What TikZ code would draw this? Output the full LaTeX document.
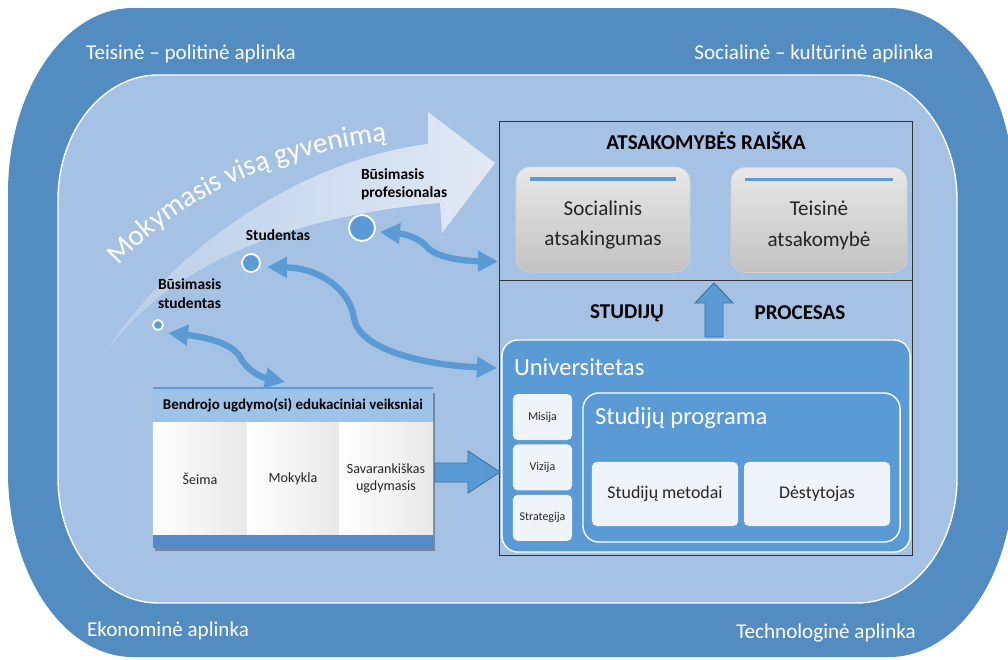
\documentclass[tikz,border=0pt]{standalone}
\usepackage{fontspec}
\setmainfont{Carlito}
\usepackage{tikz}
\usetikzlibrary{arrows.meta,calc,positioning,decorations.text}

\definecolor{envdark}{RGB}{82,140,193}
\definecolor{envlight}{RGB}{165,194,228}
\definecolor{boxblue}{RGB}{91,155,213}
\definecolor{boxline}{RGB}{65,113,156}
\definecolor{paleblue}{RGB}{239,244,250}
\definecolor{headblue}{RGB}{157,195,232}
\definecolor{footblue}{RGB}{84,138,199}
\definecolor{arrowpale}{RGB}{226,233,245}

\newcommand{\fs}[2]{\fontsize{#1}{#2}\selectfont}

\tikzset{
  envtext/.style={text=white, font=\fs{15}{18}},
  panel/.style={draw=black!80, line width=0.7pt, minimum width=10.3cm, minimum height=10.825cm},
  headtext/.style={font=\bfseries\fs{15}{18}},
  graybox/.style={draw=black!18, rounded corners=0.35cm, top color=black!9, bottom color=black!24,
    minimum height=2.625cm},
  graytext/.style={align=center, font=\fs{15}{22}, text=black!85},
  bluebox/.style={fill=boxblue, draw=white, line width=1pt, rounded corners=0.4cm},
  palebox/.style={fill=paleblue, rounded corners=0.12cm, align=center, text=black!85},
  wtitle/.style={text=white, font=\fs{17.5}{20}, anchor=west},
  dot/.style={circle, fill=boxblue, draw=white, line width=1.3pt},
  lbl/.style={font=\bfseries\fs{11}{13}, align=left},
  flow/.style={draw=boxblue, line width=4.5pt,
    {Triangle[length=0.5cm,width=0.5cm]}-{Triangle[length=0.5cm,width=0.5cm]}},
  blockarrow/.style={fill=boxblue, draw=boxline, line width=0.7pt},
  column/.style={minimum height=2.825cm, left color=white, right color=black!9,
    align=center, font=\fs{10}{12}, text=black!85}
}

\begin{document}
\begin{tikzpicture}[x=0.025cm, y=-0.025cm, inner sep=0pt, outer sep=0pt]

    \useasboundingbox (0,0) rectangle (1008,659);

    % aplinka
    \begin{scope}
      \clip (0,0) rectangle (1008,659);
      \fill[envdark] (8,193) .. controls (8,91) and (64,8) .. (133,8) -- (889,8)
        .. controls (958,8) and (1014,91) .. (1014,193) -- (1014,472)
        .. controls (1014,574) and (958,657) .. (889,657) -- (133,657)
        .. controls (64,657) and (8,574) .. (8,472) -- cycle;
    \end{scope}
    \filldraw[fill=envlight, draw=white, line width=1pt] (58,200) .. controls (58,131) and (103,75) .. (158,75)
      -- (857,75) .. controls (912,75) and (957,131) .. (957,200) -- (957,478)
      .. controls (957,547) and (912,603) .. (857,603) -- (158,603)
      .. controls (103,603) and (58,547) .. (58,478) -- cycle;

    \node[envtext] (teisine) at (191,54) {Teisinė – politinė aplinka};
    \node[envtext] (sociokult) at (814,54) {Socialinė – kultūrinė aplinka};
    \node[envtext] (ekonom) at (168,631) {Ekonominė aplinka};
    \node[envtext] (technol) at (826,633) {Technologinė aplinka};

    % mokymasis visa gyvenima
    \shade[left color=envlight!70!arrowpale, right color=arrowpale]
      (103,356) .. controls (170,250) and (300,160) .. (428,144) -- (428,112) -- (495,163)
      -- (442,233) -- (440,203) .. controls (300,215) and (170,260) .. (103,356) -- cycle;
    \path[decorate, decoration={text along path, text align=center, text color=white,
      text={|\fs{20.5}{24}|Mokymasis visą gyvenimą}}]
      (112,274) .. controls (175,197) and (285,150) .. (397,140);

    \node[dot, minimum size=0.25cm] (dot1) at (158,325) {};
    \node[dot, minimum size=0.45cm] (dot2) at (251,263) {};
    \node[dot, minimum size=0.65cm] (dot3) at (362,228) {};
    \node[lbl, anchor=north west] (busstud) at (158,279) {Būsimasis\\studentas};
    \node[lbl] (stud) at (278,235) {Studentas};
    \node[lbl, anchor=west] (busprof) at (361,184) {Būsimasis\\profesionalas};

    % atsakomybes raiska / studiju procesas
    \node[panel] (panel) at (706,338.5) {};
    \coordinate (split) at (706,280);
    \draw[black!80, line width=0.7pt] (panel.west |- split) -- (panel.east |- split);
    \node[headtext] (raiska) at (706,141) {ATSAKOMYBĖS RAIŠKA};
    \node[graybox, minimum width=4.35cm] (soc) at (603,219.5) {};
    \node[graybox, minimum width=4.4cm] (teis) at (819,220) {};
    \node[graytext] (soctext) at (603,225) {Socialinis\\atsakingumas};
    \node[graytext] (teistext) at (819,225) {Teisinė\\atsakomybė};
    \draw[boxblue, line width=2.5pt] ($(soc.north west)+(14,12)$) -- ($(soc.north east)+(-14,12)$);
    \draw[boxblue, line width=2.5pt] ($(teis.north west)+(14,12)$) -- ($(teis.north east)+(-14,12)$);
    \node[headtext] (studiju) at (627,313) {STUDIJŲ};
    \node[headtext] (procesas) at (800,313) {PROCESAS};
    \draw[blockarrow] (705,337) -- (705,303) -- (695,303) -- (714,283) -- (733,303) -- (723,303) -- (723,337) -- cycle;

    \node[bluebox, minimum width=10.2cm, minimum height=5.3cm] (univ) at (706,446) {};
    \node[wtitle] (univtitle) at (514,367) {Universitetas};
    \node[palebox, minimum width=1.475cm, minimum height=1.15cm, font=\fs{8.5}{10}] (misija) at (542.5,417) {Misija};
    \node[palebox, minimum width=1.475cm, minimum height=1.15cm, font=\fs{8.5}{10}, below=0.11cm of misija] (vizija) {Vizija};
    \node[palebox, minimum width=1.475cm, minimum height=1.15cm, font=\fs{8.5}{10}, below=0.11cm of vizija] (strateg) {Strategija};
    \node[bluebox, minimum width=7.925cm, minimum height=3.725cm] (prog) at (741.5,467.5) {};
    \node[wtitle] (progtitle) at (595,418) {Studijų programa};
    \node[palebox, minimum width=3.65cm, minimum height=1.6cm, font=\fs{12.7}{15}] (metodai) at (665,494) {Studijų metodai};
    \node[palebox, minimum width=3.65cm, minimum height=1.6cm, font=\fs{12.7}{15}, right=0.15cm of metodai] (destyt) {Dėstytojas};

    % bendrojo ugdymo(si) veiksniai
    \fill[black, opacity=0.3] (155,393) rectangle (435,551);
    \node[fill=headblue, minimum width=7cm, minimum height=0.85cm, font=\bfseries\fs{10.6}{12}] (bendr) at (293,405) {Bendrojo ugdymo(si) edukaciniai veiksniai};
    \draw[boxblue, line width=2pt] (bendr.north west) -- (bendr.north east);
    \node[column, minimum width=2.35cm, below right=0cm and 0cm of bendr.south west] (seima) {Šeima};
    \node[column, minimum width=2.3cm, right=0cm of seima] (mokykla) {Mokykla};
    \node[column, minimum width=2.35cm, right=0cm of mokykla] (savar) {Savarankiškas\\ugdymasis};
    \node[fill=footblue, minimum width=7cm, minimum height=0.325cm, below right=0cm and 0cm of seima.south west] (foot) {};
    \draw[blockarrow] (435,463) -- (468,463) -- (468,451) -- (500,472) -- (468,493) -- (468,482) -- (435,482) -- cycle;

    % rysiai
    \draw[flow] ($(dot1)+(10,8)$) .. controls (205,337) and (232,343) .. (240,357)
      .. controls (247,370) and (260,377) .. ($(bendr.north)+(-8,-6)$);
    \draw[flow] ($(dot2)+(16,4)$) .. controls (320,268) and (350,290) .. (354,318)
      .. controls (358,348) and (420,365) .. ($(univ.west |- univtitle)+(-5,1)$);
    \draw[flow] ($(dot3)+(18,4)$) .. controls (405,234) and (420,238) .. (428,248)
      .. controls (438,258) and (465,261) .. ($(panel.west)+(-2,-77)$);
\end{tikzpicture}
\end{document}
